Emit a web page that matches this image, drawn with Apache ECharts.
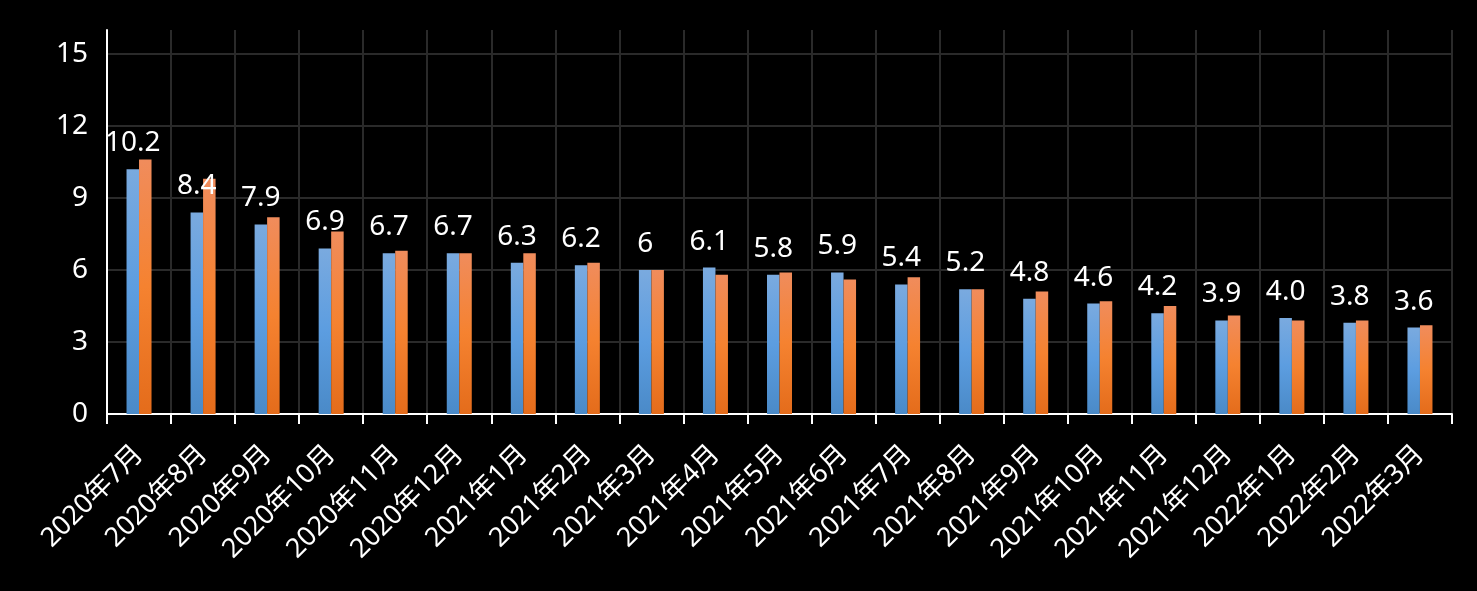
<!DOCTYPE html>
<html>
<head>
<meta charset="utf-8">
<script src="https://cdn.jsdelivr.net/npm/echarts@6/dist/echarts.min.js"></script>
<style>
html,body{margin:0;padding:0;background:#000;}
#chart{width:1477px;height:591px;}
</style>
</head>
<body>
<div id="chart"></div>
<script>
const categories = ['2020年7月','2020年8月','2020年9月','2020年10月','2020年11月','2020年12月','2021年1月','2021年2月','2021年3月','2021年4月','2021年5月','2021年6月','2021年7月','2021年8月','2021年9月','2021年10月','2021年11月','2021年12月','2022年1月','2022年2月','2022年3月'];
const blueValues = [10.2, 8.4, 7.9, 6.9, 6.7, 6.7, 6.3, 6.2, 6.0, 6.1, 5.8, 5.9, 5.4, 5.2, 4.8, 4.6, 4.2, 3.9, 4.0, 3.8, 3.6];
const orangeValues = [10.6, 9.8, 8.2, 7.6, 6.8, 6.7, 6.7, 6.3, 6.0, 5.8, 5.9, 5.6, 5.7, 5.2, 5.1, 4.7, 4.5, 4.1, 3.9, 3.9, 3.7];
const blueLabels = ['10.2','8.4','7.9','6.9','6.7','6.7','6.3','6.2','6','6.1','5.8','5.9','5.4','5.2','4.8','4.6','4.2','3.9','4.0','3.8','3.6'];
const yMin = 0, yMax = 16, yStep = 3;

const FONT = '"Noto Sans", "Noto Sans CJK SC", sans-serif';
const chart = echarts.init(document.getElementById('chart'), null, {renderer: 'canvas'});

const blueGrad = new echarts.graphic.LinearGradient(0, 0, 0, 1, [
  {offset: 0, color: '#7aaadf'},
  {offset: 0.5, color: '#5c9de0'},
  {offset: 1, color: '#4a8ac8'}
]);
const orangeGrad = new echarts.graphic.LinearGradient(0, 0, 0, 1, [
  {offset: 0, color: '#f08c5c'},
  {offset: 0.5, color: '#f58230'},
  {offset: 1, color: '#e46c1b'}
]);

chart.setOption({
  backgroundColor: '#000',
  animation: false,
  grid: {left: 107, right: 25, top: 30, bottom: 177, containLabel: false},
  xAxis: {
    type: 'category',
    data: categories,
    boundaryGap: true,
    axisLine: {show: true, lineStyle: {color: '#fff', width: 2}},
    axisTick: {show: true, alignWithLabel: false, length: 10, lineStyle: {color: '#fff', width: 2}},
    splitLine: {show: true, lineStyle: {color: '#2a2a2a', width: 2}},
    axisLabel: {
      interval: 0, rotate: 45, color: '#fff', fontSize: 27, fontFamily: FONT, margin: 36
    }
  },
  yAxis: {
    type: 'value',
    min: yMin, max: yMax, interval: yStep,
    axisLine: {show: true, lineStyle: {color: '#fff', width: 2}},
    axisTick: {show: false},
    splitLine: {show: true, showMaxLine: false, lineStyle: {color: ['#2a2a2a','#2a2a2a','#2a2a2a','#2a2a2a','#2a2a2a','#2a2a2a','rgba(0,0,0,0)'], width: 2}},
    axisLabel: {color: '#fff', fontSize: 28, fontFamily: FONT, margin: 19, showMaxLabel: false}
  },
  series: [
    {
      type: 'bar',
      data: blueValues,
      barWidth: 12.5,
      barGap: '0%',
      itemStyle: {color: blueGrad},
      label: {
        show: true, position: 'top', distance: 12, color: '#fff', fontSize: 28, fontFamily: FONT,
        formatter: p => blueLabels[p.dataIndex]
      }
    },
    {
      type: 'bar',
      data: orangeValues,
      barWidth: 12.5,
      barGap: '0%',
      itemStyle: {color: orangeGrad}
    }
  ]
});
</script>
</body>
</html>
